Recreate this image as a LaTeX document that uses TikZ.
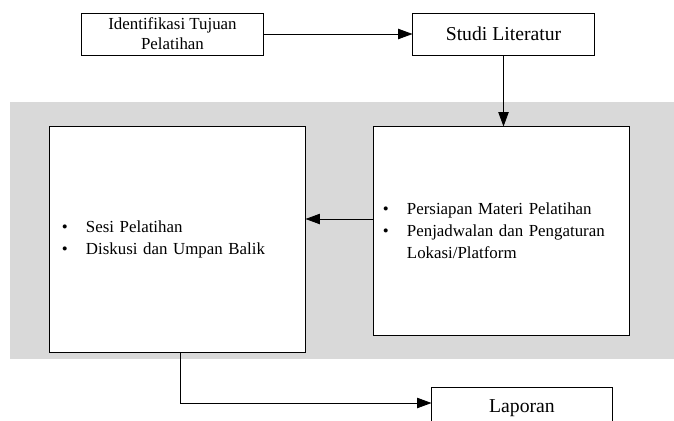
\documentclass[tikz,border=0pt]{standalone}
\usepackage{fontspec}
\setmainfont{Liberation Serif}
\usetikzlibrary{arrows.meta,calc}
\definecolor{abu}{HTML}{D9D9D9}
\newcommand{\butir}{\makebox[0.6cm][l]{\textbullet}}

\begin{document}
\begin{tikzpicture}[x = 0.025cm, y = -0.025cm,
    kotak/.style = {draw, fill = white, line width = 0.7pt, inner sep = 0pt},
    panah/.style = {-{Triangle[length = 0.36cm, width = 0.26cm]}, line width = 0.6pt}]
\useasboundingbox (0, 0) rectangle (674, 420);
\fill[abu] (10, 102) rectangle (674, 359);

\node[kotak, minimum width = 4.525cm, minimum height = 1.05cm, align = center,
    font = \fontsize{12}{14.4}\selectfont] (idt) at (172.5, 34)
    {Identifikasi Tujuan\\Pelatihan};
\node[kotak, minimum width = 4.525cm, minimum height = 1.05cm,
    font = \fontsize{14}{16}\selectfont] (studi) at (503.5, 34) {Studi Literatur};
\node[kotak, minimum height = 5.2cm, text width = 5.925cm, inner xsep = 0.225cm,
    align = left, font = \fontsize{12}{15.6}\selectfont] (siap) at (501.5, 231)
    {\butir Persiapan Materi Pelatihan\\
     \butir Penjadwalan dan Pengaturan\\
     \hspace*{0.6cm}Lokasi/Platform};
\node[kotak, minimum height = 5.625cm, text width = 5.775cm, inner xsep = 0.3cm,
    align = left, font = \fontsize{12}{15.6}\selectfont] (sesi) at (177.5, 239.5)
    {\butir Sesi Pelatihan\\
     \butir Diskusi dan Umpan Balik};
\node[kotak, minimum width = 4.5cm, minimum height = 1.05cm,
    font = \fontsize{14}{16}\selectfont] (laporan) at (522, 408) {Laporan};

\coordinate (tengah) at (340, 219);
\coordinate (belok) at (180, 403);

\draw[panah] (idt) -- (studi);
\draw[panah] (studi.south) -- (studi.south |- siap.north);
\draw[panah] (siap.west |- tengah) -- (sesi.east |- tengah);
\draw[panah] (sesi.south -| belok) -- (belok) -- (laporan.west |- belok);

\end{tikzpicture}
\end{document}
